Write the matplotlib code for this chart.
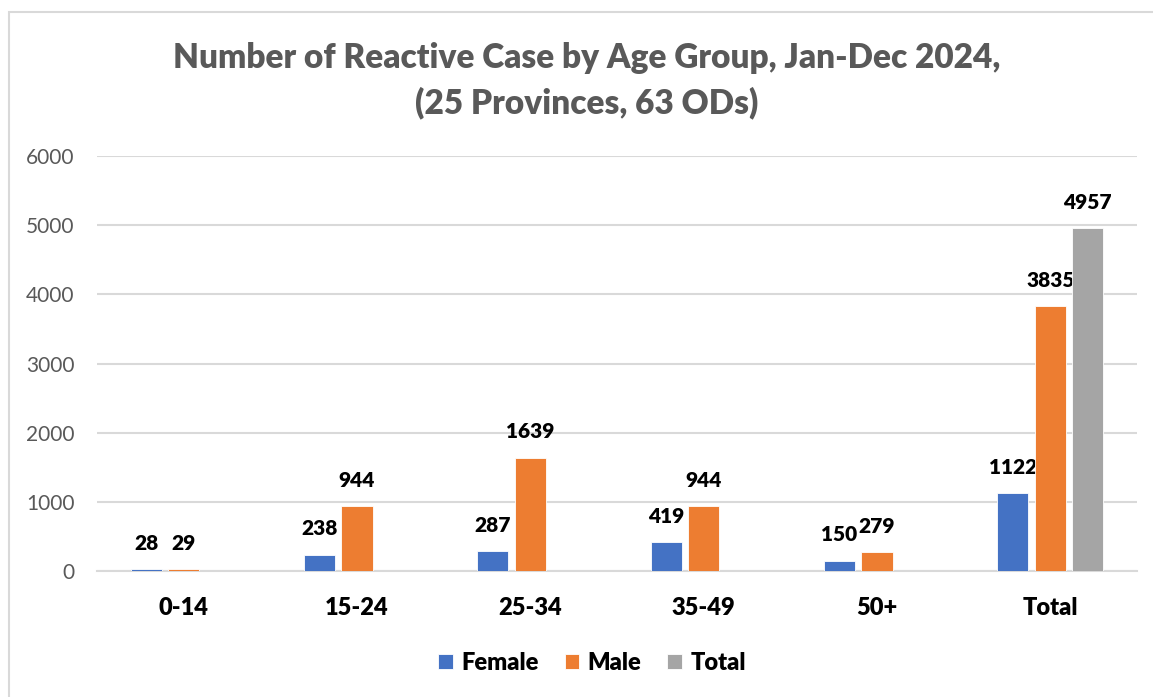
import matplotlib
matplotlib.use("Agg")
import matplotlib.pyplot as plt
from matplotlib.patches import Rectangle
import numpy as np

# --- data ---
age_groups = ["0-14", "15-24", "25-34", "35-49", "50+", "Total"]
female = [28, 238, 287, 419, 150, 1122]
male = [29, 944, 1639, 944, 279, 3835]
total = [0, 0, 0, 0, 0, 4957]
series_names = ["Female", "Male", "Total"]
colors = ["#4472C4", "#ED7D31", "#A5A5A5"]

plt.rcParams["font.family"] = ["Lato", "DejaVu Sans"]
BOLD = "heavy"

fig = plt.figure(figsize=(11.53, 6.97), dpi=100)
ax = fig.add_axes([97 / 1153, 1 - 571 / 697, 1040 / 1153, 415 / 697])

# chart border like the Excel chart area
fig.patches.append(Rectangle((9 / 1153, -0.05), 1.2, 1 - 12 / 697 + 0.05,
                             transform=fig.transFigure, fill=False,
                             edgecolor="#D9D9D9", linewidth=1.5, clip_on=False))

x = np.arange(len(age_groups))
width = 0.179
step = 0.216

for i, (vals, name, col) in enumerate(zip([female, male, total], series_names, colors)):
    bars = ax.bar(x + (i - 1) * step, vals, width=width, color=col,
                  edgecolor="white", linewidth=0.6, label=name, zorder=3)
    for bar, v in zip(bars, vals):
        if v == 0:
            continue
        ax.annotate(f"{v}", (bar.get_x() + bar.get_width() / 2, v),
                    xytext=(0, 18.5), textcoords="offset points",
                    ha="center", va="center", fontsize=15,
                    fontweight=BOLD, color="black")

ax.set_xlim(-0.5, len(age_groups) - 0.5)
ax.set_ylim(0, 6000)
ax.set_yticks(np.arange(0, 6001, 1000))
ax.grid(axis="y", color="#D9D9D9", linewidth=1.5, zorder=0)
for s in ["top", "right", "left"]:
    ax.spines[s].set_visible(False)
ax.spines["bottom"].set_color("#D9D9D9")
ax.spines["bottom"].set_linewidth(1.5)
ax.tick_params(axis="both", length=0)
ax.tick_params(axis="y", labelsize=15, labelcolor="#595959", pad=16)
ax.set_xticks(x)
ax.set_xticklabels(age_groups, fontsize=17, fontweight=BOLD, color="black")
ax.tick_params(axis="x", pad=19)

fig.text(587 / 1153, 1 - 58 / 697, "Number of Reactive Case by Age Group, Jan-Dec 2024,",
         ha="center", va="center", fontsize=24, fontweight=BOLD, color="#595959")
fig.text(587 / 1153, 1 - 103 / 697, "(25 Provinces, 63 ODs)",
         ha="center", va="center", fontsize=24, fontweight=BOLD, color="#595959")

fig.legend(loc="center", bbox_to_anchor=(592 / 1153, 1 - 663 / 697), ncol=3,
           frameon=False, prop={"size": 17, "weight": BOLD},
           handlelength=0.62, handleheight=0.62, handletextpad=0.35, columnspacing=1.1)

fig.savefig("out.png", dpi=100, facecolor="white")
